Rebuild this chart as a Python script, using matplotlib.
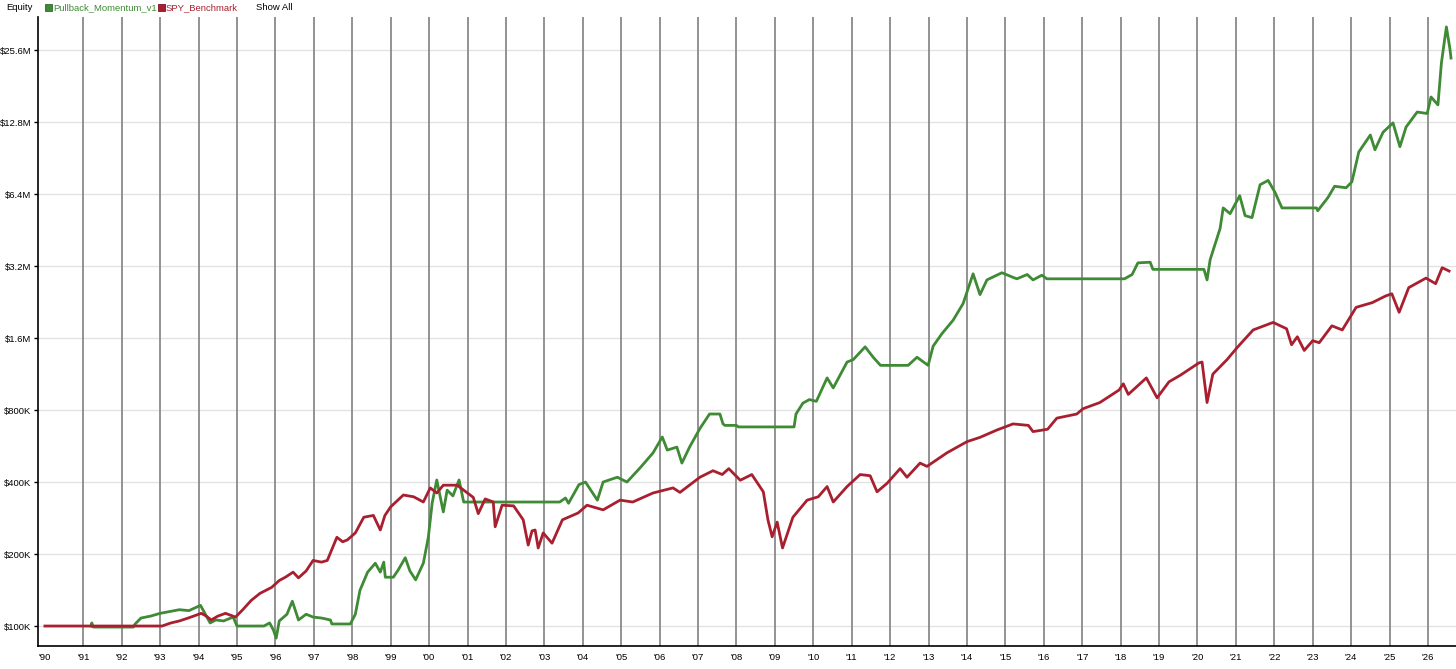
import matplotlib
matplotlib.use("Agg")
import matplotlib.pyplot as plt
from matplotlib.patches import Rectangle
from matplotlib.ticker import FixedLocator, NullLocator

plt.rcParams['font.family'] = ['Liberation Sans', 'DejaVu Sans']

# ---- data (decimal year, equity in $K) ----
green_years = [1991.20, 1991.22, 1991.26, 1992.30, 1992.35, 1992.50, 1992.75, 1993.00, 1993.25, 1993.50,
               1993.75, 1993.95, 1994.05, 1994.15, 1994.30, 1994.45, 1994.65, 1994.90, 1995.00, 1995.70,
               1995.85, 1995.95, 1996.02, 1996.10, 1996.30, 1996.44, 1996.60, 1996.80, 1996.98, 1997.20,
               1997.43, 1997.47, 1997.95, 1998.08, 1998.20, 1998.40, 1998.60, 1998.73, 1998.82, 1998.86,
               1999.07, 1999.20, 1999.38, 1999.50, 1999.65, 1999.85, 1999.98, 2000.08, 2000.20, 2000.37,
               2000.47, 2000.62, 2000.78, 2000.90, 2000.95, 2003.40, 2003.55, 2003.63, 2003.90, 2004.07,
               2004.38, 2004.53, 2004.90, 2005.15, 2005.50, 2005.83, 2006.07, 2006.20, 2006.45, 2006.58,
               2006.78, 2007.05, 2007.30, 2007.57, 2007.65, 2007.70, 2008.00, 2008.05, 2009.50, 2009.55,
               2009.73, 2009.90, 2010.08, 2010.36, 2010.52, 2010.88, 2011.04, 2011.35, 2011.56, 2011.75,
               2012.47, 2012.70, 2012.99, 2013.12, 2013.35, 2013.64, 2013.90, 2014.16, 2014.34, 2014.52,
               2014.91, 2015.20, 2015.30, 2015.57, 2015.72, 2015.95, 2016.08, 2018.10, 2018.30, 2018.45,
               2018.77, 2018.84, 2020.17, 2020.25, 2020.33, 2020.59, 2020.67, 2020.85, 2021.10, 2021.24,
               2021.42, 2021.63, 2021.84, 2022.02, 2022.20, 2023.10, 2023.13, 2023.40, 2023.57, 2023.87,
               2024.02, 2024.20, 2024.50, 2024.62, 2024.83, 2025.09, 2025.27, 2025.43, 2025.72, 2025.98,
               2026.08, 2026.26, 2026.35, 2026.48, 2026.57, 2026.60]
green_vals = [100, 103, 99, 99, 102, 108, 110, 113, 115, 117,
              116, 120, 122, 114, 103, 106, 105, 109, 100, 100,
              103, 96, 89, 105, 112, 127, 106, 112, 109, 108,
              106, 102, 102, 112, 141, 168, 183, 168, 185, 160,
              160, 172, 193, 170, 156, 183, 235, 327, 408, 300,
              370, 350, 408, 330, 330, 330, 343, 326, 390, 400,
              336, 400, 419, 400, 460, 530, 617, 544, 560, 480,
              560, 670, 770, 770, 700, 690, 690, 680, 680, 770,
              855, 885, 870, 1090, 990, 1270, 1300, 1470, 1330, 1230,
              1230, 1330, 1230, 1480, 1670, 1900, 2230, 2970, 2430, 2800,
              3000, 2870, 2830, 2950, 2800, 2930, 2830, 2830, 2950, 3300,
              3320, 3100, 3100, 2800, 3400, 4600, 5600, 5300, 6300, 5200,
              5100, 7000, 7300, 6500, 5600, 5600, 5450, 6200, 6900, 6800,
              7200, 9600, 11300, 9800, 11600, 12700, 10100, 12200, 14100, 13900,
              16300, 15100, 22600, 32000, 26000, 23700]

red_years = [1990.00, 1993.05, 1993.13, 1993.28, 1993.50, 1993.73, 1994.07, 1994.20, 1994.33, 1994.50,
             1994.70, 1994.96, 1995.15, 1995.37, 1995.60, 1995.90, 1996.10, 1996.26, 1996.46, 1996.60,
             1996.80, 1996.98, 1997.20, 1997.35, 1997.60, 1997.75, 1997.87, 1998.08, 1998.30, 1998.55,
             1998.73, 1998.85, 1999.00, 1999.33, 1999.60, 1999.85, 2000.03, 2000.20, 2000.37, 2000.73,
             2000.90, 2001.15, 2001.28, 2001.46, 2001.67, 2001.72, 2001.90, 2002.20, 2002.45, 2002.58,
             2002.68, 2002.76, 2002.84, 2002.97, 2003.20, 2003.47, 2003.88, 2004.11, 2004.53, 2004.97,
             2005.30, 2005.83, 2006.35, 2006.53, 2007.05, 2007.39, 2007.63, 2007.80, 2008.10, 2008.40,
             2008.70, 2008.82, 2008.93, 2009.06, 2009.20, 2009.47, 2009.84, 2010.13, 2010.36, 2010.52,
             2010.88, 2011.22, 2011.48, 2011.66, 2011.92, 2012.26, 2012.44, 2012.78, 2012.96, 2013.48,
             2014.00, 2014.34, 2014.78, 2015.20, 2015.60, 2015.72, 2016.10, 2016.34, 2016.86, 2017.02,
             2017.46, 2017.96, 2018.07, 2018.20, 2018.67, 2018.95, 2019.26, 2019.56, 2020.04, 2020.12,
             2020.25, 2020.40, 2020.77, 2021.05, 2021.45, 2021.97, 2022.32, 2022.45, 2022.60, 2022.78,
             2023.00, 2023.17, 2023.50, 2023.77, 2024.13, 2024.55, 2024.90, 2025.06, 2025.25, 2025.50,
             2025.95, 2026.20, 2026.37, 2026.55]
red_vals = [100, 100, 101, 103, 105, 108, 113, 110, 106, 110,
            113, 109, 117, 128, 137, 145, 155, 160, 168, 159,
            170, 188, 185, 188, 235, 225, 229, 245, 285, 290,
            252, 290, 315, 353, 347, 330, 378, 360, 388, 388,
            370, 345, 295, 340, 330, 260, 320, 318, 278, 218,
            250, 252, 212, 245, 222, 278, 297, 320, 306, 336,
            330, 360, 378, 362, 419, 446, 430, 455, 407, 430,
            364, 278, 236, 272, 212, 285, 336, 347, 383, 330,
            383, 430, 425, 364, 395, 455, 419, 480, 465, 530,
            590, 615, 660, 700, 690, 650, 665, 740, 770, 810,
            860, 970, 1030, 930, 1090, 900, 1050, 1120, 1260, 1270,
            860, 1130, 1300, 1470, 1730, 1860, 1750, 1500, 1620, 1420,
            1560, 1530, 1800, 1730, 2150, 2250, 2400, 2450, 2050, 2600,
            2850, 2700, 3150, 3050]

year_ticks = list(range(1990, 2027))
year_labels = ["'%02d" % (y % 100) for y in year_ticks]
y_ticks = [100, 200, 400, 800, 1600, 3200, 6400, 12800, 25600]
y_labels = ['$100K', '$200K', '$400K', '$800K', '$1.6M', '$3.2M', '$6.4M', '$12.8M', '$25.6M']

series_names = ['Pullback_Momentum_v1', 'SPY_Benchmark']
GREEN = '#3e8a35'
RED = '#a8202f'
FS = 6.8

W, H = 1456, 669
fig = plt.figure(figsize=(W / 100, H / 100), dpi=100)
ax = fig.add_axes([38 / W, (H - 646) / H, (W - 38) / W, (646 - 17) / H])

ax.set_yscale('log', base=2)
ax.set_xlim(1989.82, 2026.73)
ax.set_ylim(82.5, 35200)

# grid
for y in year_ticks[1:]:
    ax.axvline(y, color='#8a8a8a', lw=1.3, zorder=1)
for v in y_ticks:
    ax.axhline(v, color='#e2e2e2', lw=1.0, zorder=0.5)

ax.plot(green_years, green_vals, color=GREEN, lw=2.0, zorder=3, solid_joinstyle='round')
ax.plot(red_years, red_vals, color=RED, lw=2.0, zorder=4, solid_joinstyle='round')

ax.xaxis.set_major_locator(FixedLocator(year_ticks))
ax.set_xticklabels(year_labels)
ax.xaxis.set_minor_locator(NullLocator())
ax.yaxis.set_major_locator(FixedLocator(y_ticks))
ax.set_yticklabels(y_labels)
ax.yaxis.set_minor_locator(NullLocator())

ax.tick_params(axis='x', length=0, pad=5, labelsize=FS, colors='black')
ax.tick_params(axis='y', length=3, width=1, pad=2, labelsize=FS, colors='black')

for s in ['top', 'right']:
    ax.spines[s].set_visible(False)
ax.spines['left'].set_color('black')
ax.spines['bottom'].set_color('black')
ax.spines['left'].set_linewidth(1.2)
ax.spines['bottom'].set_linewidth(1.2)

# header legend
ty = 1 - 7.5 / H
fig.text(6 / W, ty, 'Equity', fontsize=FS, color='black', va='center', ha='left')
fig.add_artist(Rectangle((45 / W, (H - 11) / H), 7 / W, 7 / H, transform=fig.transFigure,
                         facecolor=GREEN, edgecolor='#2e6a28', lw=0.6))
fig.text(53 / W, ty, series_names[0], fontsize=FS, color=GREEN, va='center', ha='left')
fig.add_artist(Rectangle((158 / W, (H - 11) / H), 7 / W, 7 / H, transform=fig.transFigure,
                         facecolor=RED, edgecolor='#7a1522', lw=0.6))
fig.text(166 / W, ty, series_names[1], fontsize=FS, color=RED, va='center', ha='left')
fig.text(256 / W, ty, 'Show All', fontsize=FS, color='black', va='center', ha='left')

fig.savefig('out.png', dpi=100)
